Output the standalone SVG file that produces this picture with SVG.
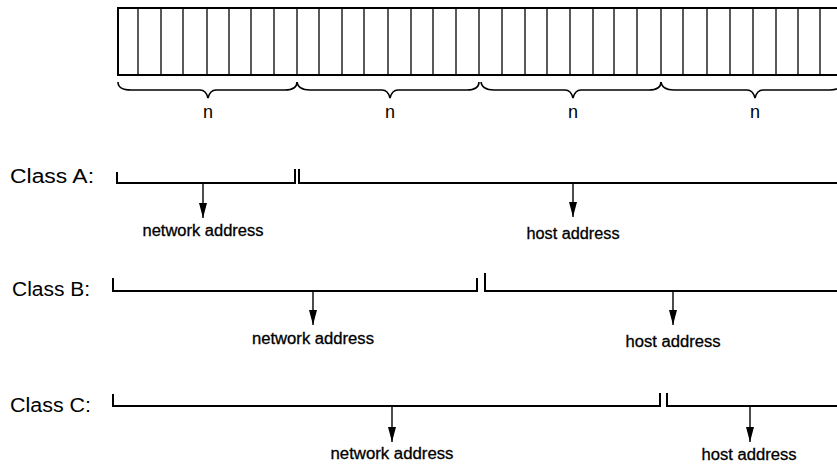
<svg xmlns="http://www.w3.org/2000/svg" width="837" height="465" viewBox="0 0 837 465">
<defs>
<style>
.reg{fill:none;stroke:#000;stroke-width:2}
.cell{stroke:#000;stroke-width:1.3}
.brace{fill:none;stroke:#000;stroke-width:1.6}
.bk{fill:none;stroke:#000;stroke-width:2}
.arr{stroke:#000;stroke-width:1.4;marker-end:url(#ah)}
.lbl{font-family:"Liberation Sans",Arial,sans-serif;font-size:20px;fill:#000}
.n{font-family:"Liberation Sans",Arial,sans-serif;font-size:18px;fill:#000;text-anchor:middle}
.sm{font-family:"Liberation Sans",Arial,sans-serif;font-size:16px;fill:#000;text-anchor:middle;stroke:#000;stroke-width:0.3}
</style>
<marker id="ah" markerWidth="15" markerHeight="8" refX="15" refY="4" orient="auto" markerUnits="userSpaceOnUse" viewBox="0 0 15 8">
<path d="M0,0 L15,4 L0,8 Z" fill="#000"/>
</marker>
</defs>

<g id="register">
<rect class="reg" x="118" y="8" width="730" height="67"/>
<g class="cell">
<line x1="138" y1="8" x2="138" y2="75"/><line x1="161" y1="8" x2="161" y2="75"/><line x1="183" y1="8" x2="183" y2="75"/><line x1="207" y1="8" x2="207" y2="75"/><line x1="229" y1="8" x2="229" y2="75"/><line x1="251" y1="8" x2="251" y2="75"/><line x1="274" y1="8" x2="274" y2="75"/><line x1="297" y1="8" x2="297" y2="75"/>
<line x1="319" y1="8" x2="319" y2="75"/><line x1="342" y1="8" x2="342" y2="75"/><line x1="364" y1="8" x2="364" y2="75"/><line x1="388" y1="8" x2="388" y2="75"/><line x1="411" y1="8" x2="411" y2="75"/><line x1="433" y1="8" x2="433" y2="75"/><line x1="456" y1="8" x2="456" y2="75"/><line x1="479" y1="8" x2="479" y2="75"/>
<line x1="502" y1="8" x2="502" y2="75"/><line x1="525" y1="8" x2="525" y2="75"/><line x1="547" y1="8" x2="547" y2="75"/><line x1="570" y1="8" x2="570" y2="75"/><line x1="593" y1="8" x2="593" y2="75"/><line x1="614" y1="8" x2="614" y2="75"/><line x1="637" y1="8" x2="637" y2="75"/><line x1="661" y1="8" x2="661" y2="75"/>
<line x1="683" y1="8" x2="683" y2="75"/><line x1="707" y1="8" x2="707" y2="75"/><line x1="730" y1="8" x2="730" y2="75"/><line x1="753" y1="8" x2="753" y2="75"/><line x1="776" y1="8" x2="776" y2="75"/><line x1="798" y1="8" x2="798" y2="75"/><line x1="820" y1="8" x2="820" y2="75"/>
</g>
</g>

<g id="braces">
<path class="brace" d="M118,82 Q118,90 131,90 L200,90 Q206,90 208,98 Q210,90 216,90 L285,90 Q297,90 297,82"/>
<path class="brace" d="M297,82 Q298,90 310,90 L382,90 Q388,90 390,98 Q392,90 398,90 L467,90 Q479,90 479,82"/>
<path class="brace" d="M481,82 Q482,90 494,90 L565,90 Q571,90 573,98 Q575,90 581,90 L649,90 Q661,90 661,82"/>
<path class="brace" d="M661,82 Q662,90 674,90 L747,90 Q753,90 755,98 Q757,90 763,90 L830,90 Q842,90 842,82"/>
<text class="n" x="208" y="118">n</text>
<text class="n" x="390" y="118">n</text>
<text class="n" x="573" y="118">n</text>
<text class="n" x="755" y="118">n</text>
</g>

<g id="classA">
<text class="lbl" x="10" y="183" textLength="84" lengthAdjust="spacingAndGlyphs">Class A:</text>
<path class="bk" d="M117,172 L117,183 L295,183 L295,169"/>
<path class="bk" d="M299,169 L299,183 L840,183"/>
</g>
<g id="classB">
<text class="lbl" x="12" y="296" textLength="78" lengthAdjust="spacingAndGlyphs">Class B:</text>
<path class="bk" d="M113,278 L113,291 L477,291 L477,278"/>
<path class="bk" d="M485,273 L485,291 L840,291"/>
</g>
<g id="classC">
<text class="lbl" x="10" y="412" textLength="81" lengthAdjust="spacingAndGlyphs">Class C:</text>
<path class="bk" d="M113,394 L113,406 L660,406 L660,393"/>
<path class="bk" d="M667,393 L667,406 L840,406"/>
</g>

<g id="connectors">
<line class="arr" x1="203" y1="183" x2="203" y2="218"/>
<line class="arr" x1="573" y1="183" x2="573" y2="217"/>
<line class="arr" x1="313" y1="291" x2="313" y2="325"/>
<line class="arr" x1="673" y1="291" x2="673" y2="325"/>
<line class="arr" x1="392" y1="406" x2="392" y2="442"/>
<line class="arr" x1="750" y1="406" x2="750" y2="442"/>
</g>

<g id="labels">
<text class="sm" x="203" y="236" textLength="121" lengthAdjust="spacingAndGlyphs">network address</text>
<text class="sm" x="573" y="239" textLength="93" lengthAdjust="spacingAndGlyphs">host address</text>
<text class="sm" x="313" y="344" textLength="122" lengthAdjust="spacingAndGlyphs">network address</text>
<text class="sm" x="673" y="347" textLength="95" lengthAdjust="spacingAndGlyphs">host address</text>
<text class="sm" x="392" y="459" textLength="123" lengthAdjust="spacingAndGlyphs">network address</text>
<text class="sm" x="749" y="460" textLength="95" lengthAdjust="spacingAndGlyphs">host address</text>
</g>
</svg>
